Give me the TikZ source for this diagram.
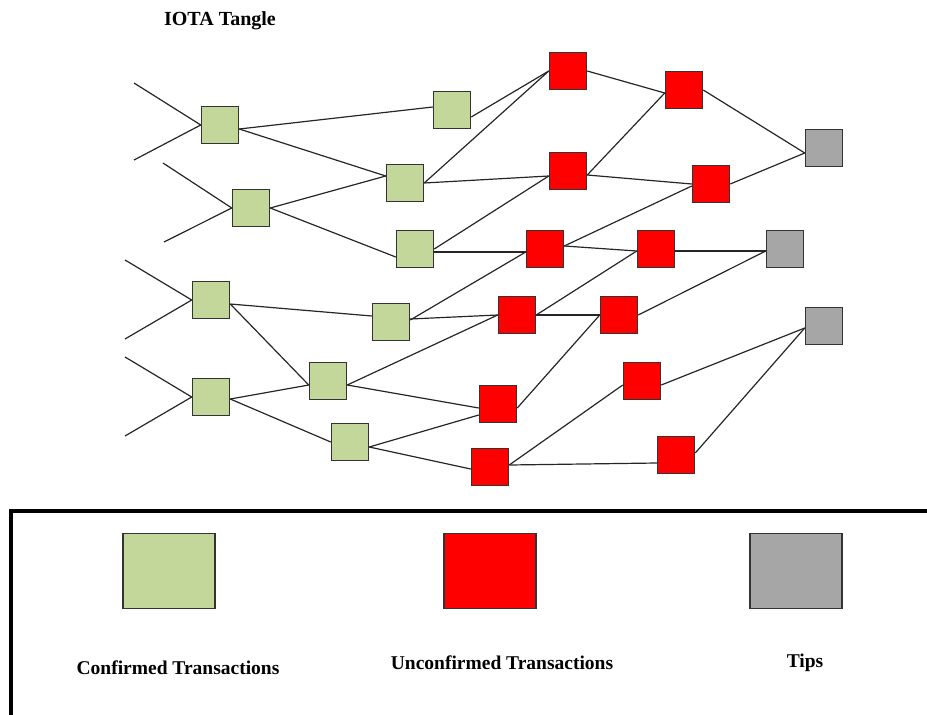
\documentclass[tikz,border=0pt]{standalone}
\usepackage{fontspec}
\setmainfont{Liberation Serif}
\definecolor{confgreen}{RGB}{196,215,155}
\definecolor{tipgray}{RGB}{166,166,166}
\begin{document}
\begin{tikzpicture}[x=1pt,y=-1pt,
	tx/.style={draw=black!80,line width=1.5pt,minimum size=37pt,inner sep=0pt},
	conf/.style={tx,fill=confgreen},
	unconf/.style={tx,fill=red},
	tip/.style={tx,fill=tipgray},
	edge/.style={line width=1.2pt,black!85},
	key/.style={draw=black!80,line width=1.5pt,minimum width=92pt,minimum height=75pt,inner sep=0pt},
	lbl/.style={font=\fontsize{19.5}{23}\selectfont\bfseries}]
		\useasboundingbox (0,0) rectangle (927,715);
		
		\node[font=\fontsize{20}{24}\selectfont\bfseries] (title) at (220,21) {IOTA Tangle};
		
		% confirmed transactions
		\node[conf] (G1) at (220,125) {};
		\node[conf] (G2) at (251,208) {};
		\node[conf] (G3) at (452,110) {};
		\node[conf] (G4) at (405,183) {};
		\node[conf] (G5) at (415,249) {};
		\node[conf] (G6) at (211,300) {};
		\node[conf] (G7) at (391,322) {};
		\node[conf] (G8) at (211,397) {};
		\node[conf] (G9) at (328,381) {};
		\node[conf] (G10) at (350,442) {};
		
		% unconfirmed transactions
		\node[unconf] (R1) at (568,71) {};
		\node[unconf] (R2) at (684,90) {};
		\node[unconf] (R3) at (568,171) {};
		\node[unconf] (R4) at (711,184) {};
		\node[unconf] (R5) at (545,249) {};
		\node[unconf] (R6) at (656,249) {};
		\node[unconf] (R7) at (517,315) {};
		\node[unconf] (R8) at (619,315) {};
		\node[unconf] (R9) at (642,381) {};
		\node[unconf] (R10) at (498,404) {};
		\node[unconf] (R11) at (490,467) {};
		\node[unconf] (R12) at (676,455) {};
		
		% tips
		\node[tip] (T1) at (824,148) {};
		\node[tip] (T2) at (785,249) {};
		\node[tip] (T3) at (824,326) {};
		
		% older history
		\coordinate (s1) at (134,83);
		\coordinate (s2) at (134,160);
		\coordinate (s3) at (163,163);
		\coordinate (s4) at (164,242);
		\coordinate (s5) at (125,260);
		\coordinate (s6) at (125,339);
		\coordinate (s7) at (125,357);
		\coordinate (s8) at (125,436);
		\draw[edge] (s1) -- (G1.west);
		\draw[edge] (s2) -- (G1.west);
		\draw[edge] (s3) -- (G2.west);
		\draw[edge] (s4) -- (G2.west);
		\draw[edge] (s5) -- (G6.west);
		\draw[edge] (s6) -- (G6.west);
		\draw[edge] (s7) -- (G8.west);
		\draw[edge] (s8) -- (G8.west);
		
		\draw[edge] ([yshift=-4pt]G1.east) -- ([yshift=3pt]G3.west);
		\draw[edge] ([yshift=-4pt]G1.east) -- ([yshift=7pt]G4.west);
		\draw[edge] (G2.east) -- ([yshift=7pt]G4.west);
		\draw[edge] (G2.east) -- ([yshift=-8pt]G5.west);
		\draw[edge] ([yshift=-7pt]G3.east) -- (R1.west);
		\draw[edge] (G4.east) -- (R1.west);
		\draw[edge] (G4.east) -- ([yshift=-5pt]R3.west);
		\draw[edge] (G5.east) -- ([yshift=-5pt]R3.west);
		\draw[edge] ([yshift=-3pt]G5.east) -- ([yshift=-3pt]R5.west);
		\draw[edge] (R1.east) -- ([yshift=-3pt]R2.west);
		\draw[edge] ([yshift=-4pt]R3.east) -- ([yshift=-3pt]R2.west);
		\draw[edge] ([yshift=-4pt]R3.east) -- (R4.west);
		\draw[edge] (R2.east) -- ([yshift=-5pt]T1.west);
		\draw[edge] (R4.east) -- ([yshift=-5pt]T1.west);
		\draw[edge] ([yshift=3pt]R5.east) -- ([yshift=-2pt]R4.west);
		\draw[edge] ([yshift=3pt]R5.east) -- ([yshift=-2pt]R6.west);
		\draw[edge] ([yshift=-2pt]R6.east) -- ([yshift=-2pt]T2.west);
		\draw[edge] ([yshift=-4pt]G6.east) -- ([yshift=6pt]G7.west);
		\draw[edge] ([yshift=-4pt]G6.east) -- ([yshift=-4pt]G9.west);
		\draw[edge] ([yshift=-2pt]G8.east) -- ([yshift=-4pt]G9.west);
		\draw[edge] ([yshift=-2pt]G8.east) -- (G10.west);
		\draw[edge] ([yshift=2pt]G7.east) -- ([yshift=-3pt]R5.west);
		\draw[edge] ([yshift=3pt]G7.east) -- (R7.west);
		\draw[edge] ([yshift=-4pt]G9.east) -- (R7.west);
		\draw[edge] ([yshift=-4pt]G9.east) -- ([yshift=-4pt]R10.west);
		\draw[edge] ([yshift=-5pt]G10.east) -- ([yshift=-11pt]R10.west);
		\draw[edge] ([yshift=-5pt]G10.east) -- ([yshift=-2pt]R11.west);
		\draw[edge] (R7.east) -- ([yshift=-2pt]R6.west);
		\draw[edge] (R7.east) -- (R8.west);
		\draw[edge] (R8.east) -- ([yshift=-2pt]T2.west);
		\draw[edge] ([yshift=-4pt]R10.east) -- (R8.west);
		\draw[edge] ([yshift=2pt]R11.east) -- ([yshift=-4pt]R9.west);
		\draw[edge] ([yshift=2pt]R11.east) -- ([yshift=-8pt]R12.west);
		\draw[edge] ([yshift=-4pt]R9.east) -- ([yshift=-2pt]T3.west);
		\draw[edge] ([yshift=2pt]R12.east) -- ([yshift=-2pt]T3.west);
		
		% legend
		\draw[line width=4pt] (11,717) -- (11,511) -- (929,511);
		\node[key,fill=confgreen] (LG) at (169,571) {};
		\node[key,fill=red] (LR) at (490,571) {};
		\node[key,fill=tipgray] (LT) at (796,571) {};
		\node[lbl] (LGt) at (178,668) {Confirmed Transactions};
		\node[lbl] (LRt) at (502,663) {Unconfirmed Transactions};
		\node[lbl] (LTt) at (805,663) {Tips};
\end{tikzpicture}
\end{document}
